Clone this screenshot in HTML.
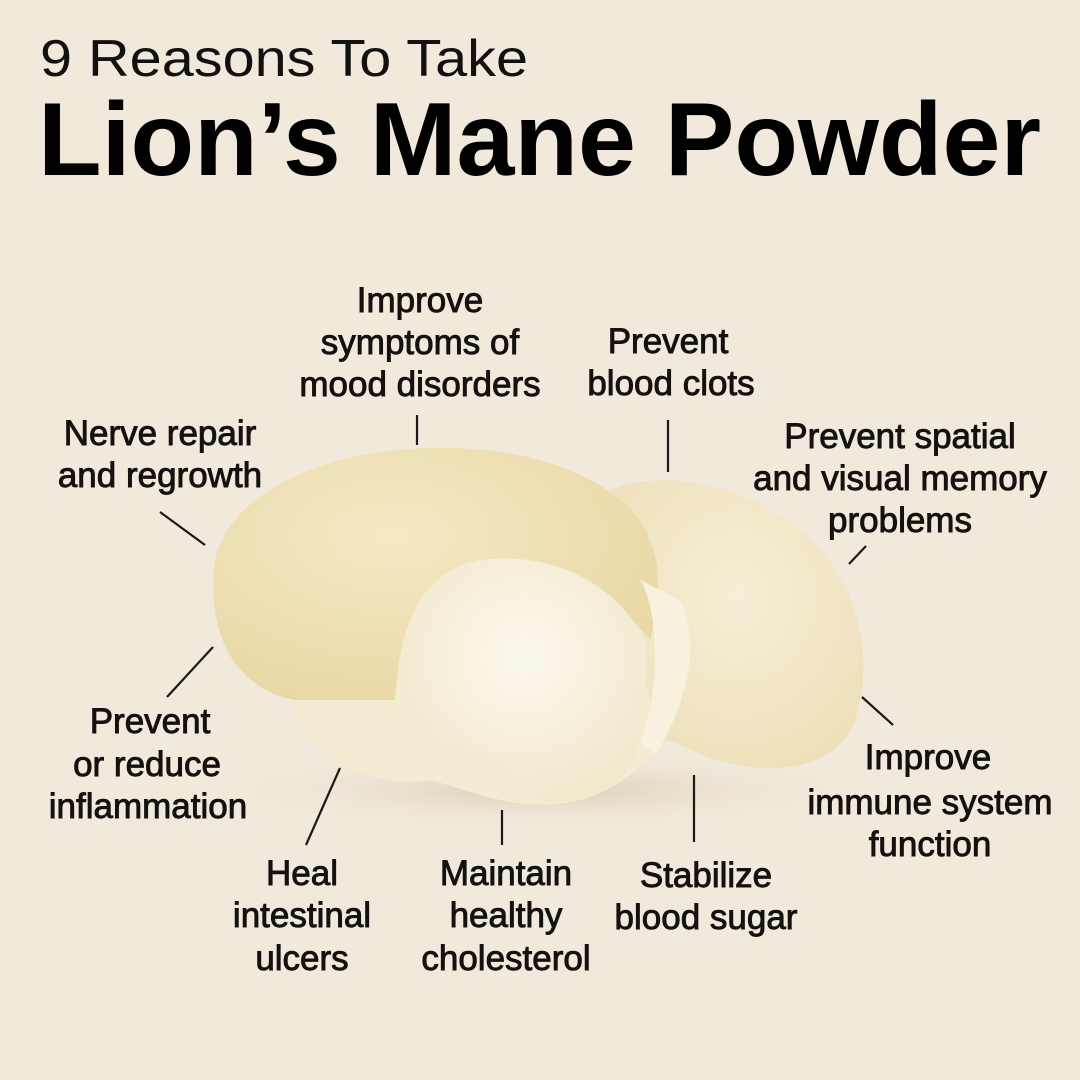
<!DOCTYPE html>
<html><head><meta charset="utf-8"><style>
html,body{margin:0;padding:0;background:#f1e9db;}
svg{display:block}
.l{font-family:"Liberation Sans",sans-serif;font-size:35px;fill:#141210;stroke:#141210;stroke-width:0.9;text-anchor:middle}
</style></head><body>
<svg width="1080" height="1080" viewBox="0 0 1080 1080" xmlns="http://www.w3.org/2000/svg">
<defs>
<radialGradient id="cap" cx="0.4" cy="0.35" r="0.7"><stop offset="0" stop-color="#f4e9c6"/><stop offset="1" stop-color="#e8d8a4"/></radialGradient>
<radialGradient id="rt" cx="0.5" cy="0.4" r="0.7"><stop offset="0" stop-color="#f7eed6"/><stop offset="1" stop-color="#ecdfb8"/></radialGradient>
<radialGradient id="inn" cx="0.5" cy="0.4" r="0.6"><stop offset="0" stop-color="#fcf8ee"/><stop offset="1" stop-color="#f2e8cd"/></radialGradient>
<radialGradient id="sh" cx="0.5" cy="0.5" r="0.5"><stop offset="0" stop-color="#d9cdb5"/><stop offset="1" stop-color="#f1e9db" stop-opacity="0"/></radialGradient>
</defs>
<rect width="1080" height="1080" fill="#f1e9db"/>
<text x="40" y="76" font-family="Liberation Sans,sans-serif" font-size="52" fill="#111" textLength="488" lengthAdjust="spacingAndGlyphs">9 Reasons To Take</text>
<text x="38" y="175" font-family="Liberation Sans,sans-serif" font-weight="bold" font-size="104" fill="#000" textLength="1003" lengthAdjust="spacingAndGlyphs">Lion’s Mane Powder</text>

<ellipse cx="540" cy="790" rx="330" ry="40" fill="url(#sh)"/>
<path d="M610 490 C660 470 740 480 800 530 C860 580 875 660 855 720 C840 765 780 775 740 765 C700 760 680 740 660 740 C630 700 620 600 610 490 Z" fill="url(#rt)"/>
<path d="M290 690 C300 760 380 790 430 780 C470 790 520 815 580 800 C620 790 650 760 660 740 C640 650 610 580 560 560 C480 540 380 600 290 690 Z" fill="#f4ebd2"/>
<path d="M215 560 C230 490 330 450 430 448 C520 446 600 470 640 520 C665 560 660 600 650 640 C620 600 560 560 470 570 C420 580 400 620 395 700 C360 700 320 700 295 700 C240 690 205 640 215 560 Z" fill="url(#cap)"/>
<path d="M400 690 C400 610 430 570 480 560 C560 550 620 590 645 640 C650 700 640 760 620 780 C600 800 560 805 540 800 C510 760 470 740 430 740 C410 730 400 710 400 690 Z" fill="url(#inn)"/>
<path d="M640 580 C660 610 660 700 640 740 L655 755 C690 700 700 640 680 600 Z" fill="#f8f1df"/>

<g stroke="#1a1a1a" stroke-width="2.2">
<line x1="417" y1="415" x2="417" y2="445"/>
<line x1="668" y1="420" x2="668" y2="472"/>
<line x1="160" y1="512" x2="205" y2="545"/>
<line x1="866" y1="546" x2="849" y2="564"/>
<line x1="213" y1="647" x2="167" y2="697"/>
<line x1="862" y1="697" x2="893" y2="725"/>
<line x1="340" y1="768" x2="306" y2="845"/>
<line x1="502" y1="810" x2="502" y2="845"/>
<line x1="694" y1="775" x2="694" y2="842"/>
</g>

<text class="l" x="420" y="312">Improve</text>
<text class="l" x="420" y="354">symptoms of</text>
<text class="l" x="420" y="396">mood disorders</text>

<text class="l" x="668" y="353">Prevent</text>
<text class="l" x="671" y="395">blood clots</text>

<text class="l" x="160" y="445">Nerve repair</text>
<text class="l" x="160" y="487">and regrowth</text>

<text class="l" x="900" y="448">Prevent spatial</text>
<text class="l" x="900" y="490">and visual memory</text>
<text class="l" x="900" y="532">problems</text>

<text class="l" x="150" y="733">Prevent</text>
<text class="l" x="147" y="776">or reduce</text>
<text class="l" x="148" y="818">inflammation</text>

<text class="l" x="928" y="769">Improve</text>
<text class="l" x="930" y="814">immune system</text>
<text class="l" x="930" y="856">function</text>

<text class="l" x="302" y="885">Heal</text>
<text class="l" x="302" y="927">intestinal</text>
<text class="l" x="302" y="970">ulcers</text>

<text class="l" x="506" y="885">Maintain</text>
<text class="l" x="506" y="927">healthy</text>
<text class="l" x="506" y="970">cholesterol</text>

<text class="l" x="706" y="887">Stabilize</text>
<text class="l" x="706" y="929">blood sugar</text>
</svg>
</body></html>
